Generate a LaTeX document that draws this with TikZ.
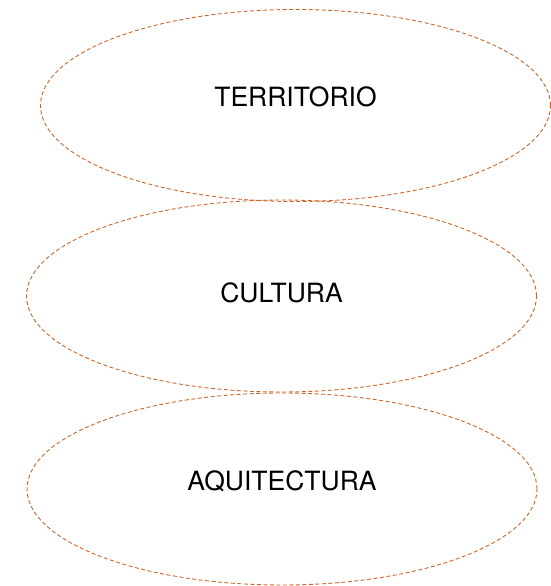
\documentclass[tikz,border=0pt]{standalone}
\usepackage{fontspec}
\setmainfont{TeX Gyre Heros}
\usetikzlibrary{shapes.geometric}
\definecolor{rust}{RGB}{204,102,44}

\tikzset{
  circle ellipse/.style={ellipse,draw=rust,line width=0.9pt,dash pattern=on 4pt off 2.5pt,
    minimum width=510pt,minimum height=192pt,inner sep=0pt},
  word/.style={font=\fontsize{26.5}{30}\selectfont}
}

\begin{document}
\begin{tikzpicture}[x=1pt,y=1pt]
\useasboundingbox (0,0) rectangle (551,586);
\node[circle ellipse] (territorio) at (295.5,480.5) {};
\node[circle ellipse] (cultura) at (281.5,290) {};
\node[circle ellipse] (arquitectura) at (282,97) {};
\node[word] (t1) at ([yshift=9pt]territorio.center) {TERRITORIO};
\node[word] (t2) at ([yshift=3pt]cultura.center) {CULTURA};
\node[word] (t3) at ([yshift=8pt]arquitectura.center) {AQUITECTURA};
\end{tikzpicture}
\end{document}
